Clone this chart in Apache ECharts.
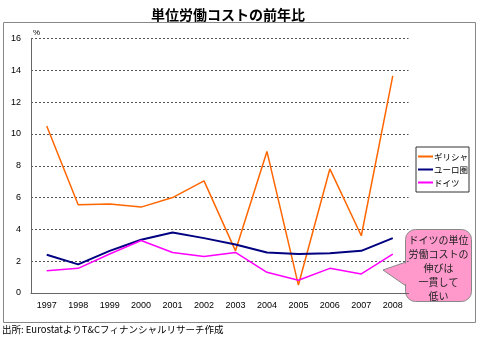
<!DOCTYPE html>
<html><head><meta charset="utf-8">
<script src="https://cdn.jsdelivr.net/npm/echarts@6/dist/echarts.min.js"></script>
<style>html,body{margin:0;padding:0;background:#fff}#c{width:478px;height:341px}</style>
</head><body><div id="c"></div>
<script>
const years = ['1997','1998','1999','2000','2001','2002','2003','2004','2005','2006','2007','2008'];
const greece = [10.5, 5.55, 5.6, 5.4, 6.0, 7.05, 2.65, 8.9, 0.5, 7.8, 3.6, 13.65];
const euro = [2.4, 1.8, 2.65, 3.35, 3.8, 3.45, 3.05, 2.55, 2.45, 2.5, 2.65, 3.45];
const germany = [1.4, 1.55, 2.45, 3.3, 2.55, 2.3, 2.55, 1.3, 0.8, 1.55, 1.2, 2.45];
const seriesNames = ['ギリシャ', 'ユーロ圏', 'ドイツ'];
const yTicks = [0, 2, 4, 6, 8, 10, 12, 14, 16];
const titleText = '単位労働コストの前年比';
const sourceText = '出所: EurostatよりT&Cフィナンシャルリサーチ作成';
const calloutLines = ['ドイツの単位', '労働コストの', '伸びは', '一貫して', '低い'];

const JP = '"Noto Sans CJK JP", sans-serif';
const chart = echarts.init(document.getElementById('c'), null, {renderer: 'canvas'});
chart.setOption({
  animation: false,
  backgroundColor: '#fff',
  title: {
    text: titleText, left: 146, top: 3,
    textStyle: {fontFamily: JP, fontSize: 14, fontWeight: 'bold', color: '#000'}
  },
  grid: {left: 31, right: 69.5, top: 38.5, bottom: 48},
  legend: {
    orient: 'vertical', left: 416, top: 147,
    padding: [4, 1, 4, 2], itemGap: 2,
    borderColor: '#333', borderWidth: 1,
    itemWidth: 15, itemHeight: 2, icon: 'rect',
    textStyle: {fontFamily: JP, fontSize: 8.5, color: '#000', padding: [0, 0, 0, -4], lineHeight: 11},
    data: seriesNames
  },
  xAxis: {
    type: 'category', data: years, boundaryGap: true,
    axisLine: {lineStyle: {color: '#666', width: 1}},
    axisTick: {inside: true, length: 3, lineStyle: {color: '#666'}},
    axisLabel: {fontFamily: 'Liberation Sans, Arial', fontSize: 9, color: '#000', margin: 8}
  },
  yAxis: {
    type: 'value', min: yTicks[0], max: yTicks[yTicks.length - 1], interval: 2,
    name: '%', nameLocation: 'end', nameGap: 2,
    nameTextStyle: {fontSize: 8, color: '#000', align: 'left', padding: [0, 0, 0, 2]},
    axisLine: {show: true, lineStyle: {color: '#666', width: 1}},
    axisTick: {show: false},
    axisLabel: {fontFamily: 'Liberation Sans, Arial', fontSize: 9, color: '#000', margin: 10},
    splitLine: {show: true, lineStyle: {color: '#555', type: [2, 2], width: 1}}
  },
  series: [
    {name: seriesNames[0], type: 'line', data: greece, symbol: 'none', color: '#ff6600', lineStyle: {width: 1.5, color: '#ff6600'}},
    {name: seriesNames[1], type: 'line', data: euro, symbol: 'none', color: '#000080', lineStyle: {width: 2, color: '#000080'}},
    {name: seriesNames[2], type: 'line', data: germany, symbol: 'none', color: '#ff00ff', lineStyle: {width: 1.5, color: '#ff00ff'}}
  ],
  graphic: [
    {type: 'rect', shape: {x: 3.5, y: 22.5, width: 472, height: 300}, style: {fill: 'none', stroke: '#888', lineWidth: 1}, z: 0, silent: true},
    {type: 'text', left: 2, top: 325, style: {text: sourceText, font: '9.5px ' + JP, fill: '#000'}},
    {type: 'group', z: 100, children: [
      {type: 'polygon', shape: {points: [[406, 262], [383, 270], [406, 286]]}, style: {fill: '#ff99cc', stroke: '#888', lineWidth: 1}},
      {type: 'rect', shape: {x: 405.5, y: 229.5, width: 66, height: 72, r: 10}, style: {fill: '#ff99cc', stroke: '#888', lineWidth: 1}},
      {type: 'polygon', shape: {points: [[407, 263], [385, 270], [407, 285]]}, style: {fill: '#ff99cc', stroke: null}},
      {type: 'text', x: 438.5, y: 233, style: {text: calloutLines.join('\n'), font: '10px ' + JP, lineHeight: 14, fill: '#222', align: 'center'}}
    ]}
  ]
});
</script></body></html>
